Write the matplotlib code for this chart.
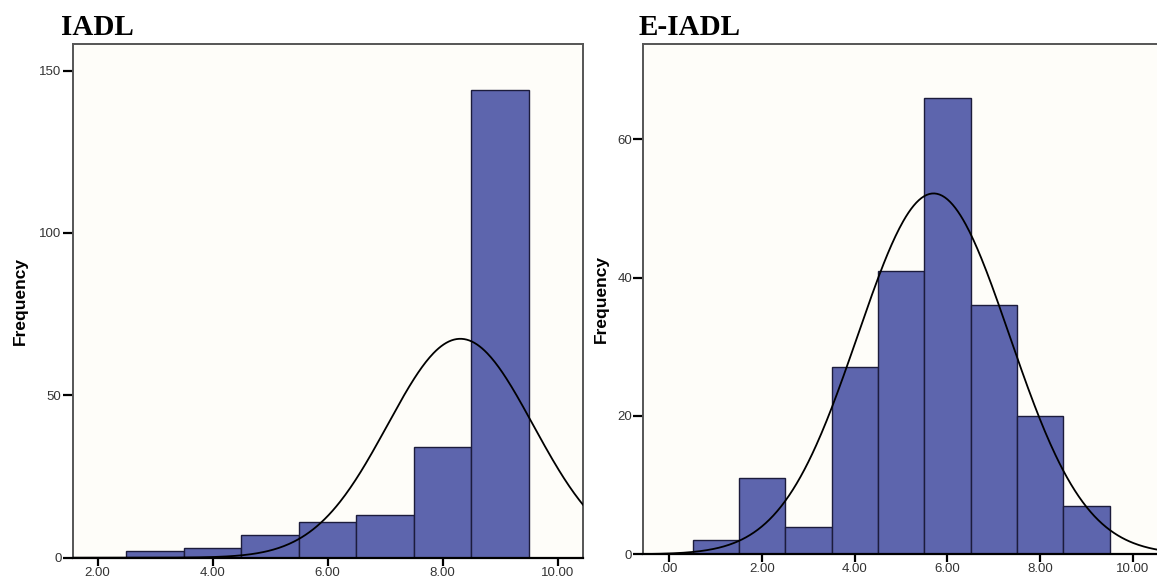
import numpy as np
import matplotlib
matplotlib.use("Agg")
import matplotlib.pyplot as plt

# ---------------- data ----------------
iadl_bins = [3, 4, 5, 6, 7, 8, 9]
iadl_counts = [2, 3, 7, 11, 13, 34, 144]
iadl_xticks = [2, 4, 6, 8, 10]
iadl_xticklabels = ["2.00", "4.00", "6.00", "8.00", "10.00"]
iadl_yticks = [0, 50, 100, 150]

eiadl_bins = [1, 2, 3, 4, 5, 6, 7, 8, 9]
eiadl_counts = [2, 11, 4, 27, 41, 66, 36, 20, 7]
eiadl_xticks = [0, 2, 4, 6, 8, 10]
eiadl_xticklabels = [".00", "2.00", "4.00", "6.00", "8.00", "10.00"]
eiadl_yticks = [0, 20, 40, 60]

titles = ["IADL", "E-IADL"]
ylabel = "Frequency"

# ---------------- style ----------------
W, H = 1157, 581
fig = plt.figure(figsize=(W / 100, H / 100), dpi=100)
fig.patch.set_facecolor("white")

bar_color = "#5d65ad"
edge_color = "#1c1c3c"
face = "#fefdf9"
spine_gray = "#555555"


def px_axes(left, top, right, bottom):
    return [left / W, 1 - bottom / H, (right - left) / W, (bottom - top) / H]


def draw(ax, bins, counts, xlim, ylim, xticks, xticklabels, yticks):
    bins = np.asarray(bins, float)
    counts = np.asarray(counts, float)
    ax.set_facecolor(face)
    ax.bar(bins, counts, width=1.0, color=bar_color, edgecolor=edge_color,
           linewidth=1.0, zorder=2)
    # fitted normal curve (from the histogram's own data)
    n = counts.sum()
    mean = (bins * counts).sum() / n
    sd = np.sqrt(((bins - mean) ** 2 * counts).sum() / (n - 1))
    xs = np.linspace(xlim[0], xlim[1], 400)
    ys = n * 1.0 / (sd * np.sqrt(2 * np.pi)) * np.exp(-0.5 * ((xs - mean) / sd) ** 2)
    ax.plot(xs, ys, color="black", lw=1.3, zorder=3)
    ax.set_xlim(*xlim)
    ax.set_ylim(*ylim)
    ax.set_xticks(xticks)
    ax.set_xticklabels(xticklabels)
    ax.set_yticks(yticks)
    ax.set_yticklabels([str(v) for v in yticks])
    for s in ["top", "right", "left"]:
        ax.spines[s].set_color(spine_gray)
        ax.spines[s].set_linewidth(1.4)
    ax.spines["bottom"].set_color("black")
    ax.spines["bottom"].set_linewidth(1.6)
    ax.tick_params(axis="x", direction="out", length=5.5, width=1.6, color="black",
                   pad=1, labelsize=9.5, labelcolor="#333333")
    ax.tick_params(axis="y", direction="out", length=7, width=1.6, color="black",
                   pad=1, labelsize=9.5, labelcolor="#333333")
    for lab in ax.get_xticklabels() + ax.get_yticklabels():
        lab.set_fontfamily("Liberation Sans")


ax1 = fig.add_axes(px_axes(72.7, 44.3, 583.2, 557.7))
draw(ax1, iadl_bins, iadl_counts, (1.566, 10.446), (0, 158.1),
     iadl_xticks, iadl_xticklabels, iadl_yticks)

ax2 = fig.add_axes(px_axes(643.3, 44.3, 1162, 554.3))
draw(ax2, eiadl_bins, eiadl_counts, (-0.563, 10.63), (0, 73.7),
     eiadl_xticks, eiadl_xticklabels, eiadl_yticks)

# titles
fig.text(61.2 / W, 1 - 35 / H, titles[0], fontsize=21, fontweight="bold",
         family="Liberation Serif", ha="left", va="baseline")
fig.text(638.9 / W, 1 - 35 / H, titles[1], fontsize=21, fontweight="bold",
         family="Liberation Serif", ha="left", va="baseline")

# y labels
fig.text(20 / W, 1 - 301 / H, ylabel, rotation=90, fontsize=12.5,
         fontweight="bold", family="Liberation Sans", ha="center", va="center")
fig.text(601 / W, 1 - 299 / H, ylabel, rotation=90, fontsize=12.5,
         fontweight="bold", family="Liberation Sans", ha="center", va="center")

fig.savefig("out.png", dpi=100)
